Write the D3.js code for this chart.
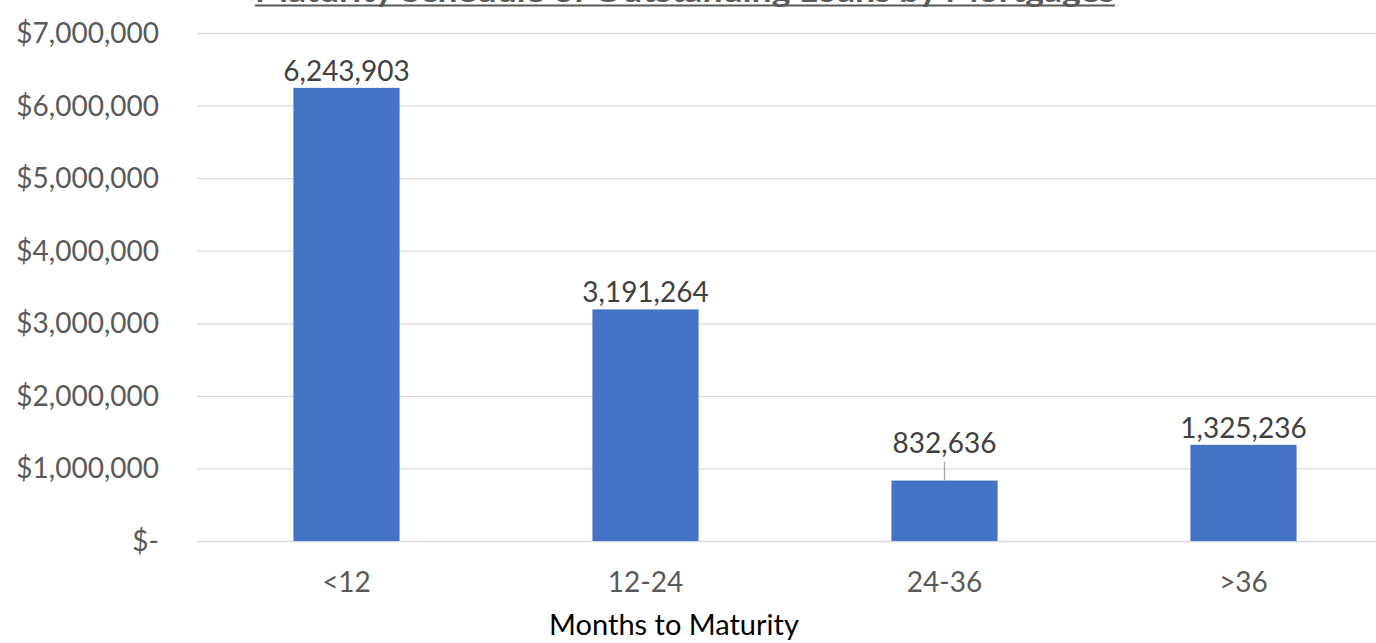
<!DOCTYPE html>
<html>
<head>
<meta charset="utf-8">
<script src="https://cdn.jsdelivr.net/npm/d3@7"></script>
<style>
  html, body { margin: 0; padding: 0; background: #fff; overflow: hidden; }
  svg { display: block; font-family: Lato, "Open Sans", sans-serif; }
</style>
</head>
<body>
<svg id="chart"></svg>
<script>
// data
const categories = ["<12", "12-24", "24-36", ">36"];
const amounts = [6243903, 3191264, 832636, 1325236];
const yTicks = [0, 1000000, 2000000, 3000000, 4000000, 5000000, 6000000, 7000000];
const chartTitle = "Maturity Schedule of Outstanding Loans by Mortgages";
const xTitle = "Months to Maturity";

function drawChart() {
  const width = 1376;
  const height = 643;

  const svg = d3.select("#chart")
    .attr("width", width)
    .attr("height", height);

  // scales
  const x = d3.scaleBand()
    .domain(categories)
    .range([197, 1393])
    .paddingInner(0.645)
    .paddingOuter(0.3225);

  const y = d3.scaleLinear()
    .domain([0, 7000000])
    .range([541, 33]);

  // gridlines
  svg.append("g")
    .selectAll("line")
    .data(yTicks)
    .enter()
    .append("line")
    .attr("x1", 197)
    .attr("x2", width)
    .attr("y1", d => y(d) + 0.5)
    .attr("y2", d => y(d) + 0.5)
    .attr("stroke", "#d9d9d9")
    .attr("stroke-width", 1.3);

  // y axis labels
  const fmt = d3.format(",");
  svg.append("g")
    .selectAll("text")
    .data(yTicks)
    .enter()
    .append("text")
    .attr("x", 159)
    .attr("y", d => y(d) + 10)
    .attr("text-anchor", "end")
    .attr("fill", "#595959")
    .attr("font-size", 28)
    .text(d => d === 0 ? "$-" : "$" + fmt(d));

  // bars
  svg.append("g")
    .selectAll("rect")
    .data(amounts)
    .enter()
    .append("rect")
    .attr("x", (d, i) => x(categories[i]))
    .attr("width", x.bandwidth())
    .attr("y", d => y(d))
    .attr("height", d => y(0) - y(d))
    .attr("fill", "#4472c4");

  // value labels (the small bar gets a leader line)
  const labelGap = d => d < 1000000 ? 28 : 7;
  svg.append("g")
    .selectAll("text")
    .data(amounts)
    .enter()
    .append("text")
    .attr("x", (d, i) => x(categories[i]) + x.bandwidth() / 2)
    .attr("y", d => y(d) - labelGap(d))
    .attr("text-anchor", "middle")
    .attr("fill", "#404040")
    .attr("font-size", 28)
    .text(d => fmt(d));

  svg.append("g")
    .selectAll("line")
    .data(amounts.filter(d => d < 1000000))
    .enter()
    .append("line")
    .attr("x1", d => x(categories[amounts.indexOf(d)]) + x.bandwidth() / 2)
    .attr("x2", d => x(categories[amounts.indexOf(d)]) + x.bandwidth() / 2)
    .attr("y1", d => y(d) - 19)
    .attr("y2", d => y(d))
    .attr("stroke", "#a6a6a6")
    .attr("stroke-width", 1.3);

  // category labels
  svg.append("g")
    .selectAll("text")
    .data(categories)
    .enter()
    .append("text")
    .attr("x", d => x(d) + x.bandwidth() / 2)
    .attr("y", 592)
    .attr("text-anchor", "middle")
    .attr("fill", "#595959")
    .attr("font-size", 28)
    .text(d => d);

  // axis title
  svg.append("text")
    .attr("x", 674)
    .attr("y", 635)
    .attr("text-anchor", "middle")
    .attr("fill", "#000")
    .attr("font-size", 29)
    .text(xTitle);

  // chart title, mostly cut off at the top edge
  svg.append("text")
    .attr("x", 255)
    .attr("y", 2)
    .attr("textLength", 860)
    .attr("lengthAdjust", "spacingAndGlyphs")
    .attr("fill", "#595959")
    .attr("font-size", 30)
    .attr("font-weight", "bold")
    .text(chartTitle);

  svg.append("line")
    .attr("x1", 255)
    .attr("x2", 1115)
    .attr("y1", 5.5)
    .attr("y2", 5.5)
    .attr("stroke", "#595959")
    .attr("stroke-width", 2);
}

drawChart();
</script>
</body>
</html>
